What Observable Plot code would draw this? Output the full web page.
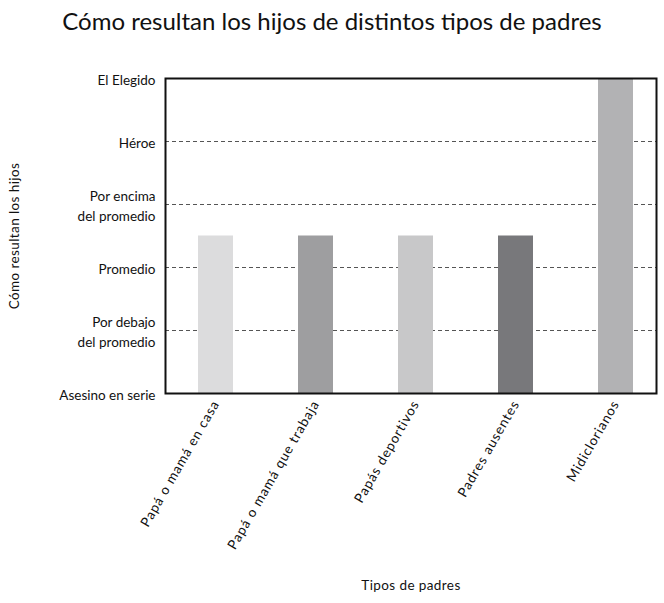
<!DOCTYPE html>
<html>
<head>
<meta charset="utf-8">
<script src="https://cdn.jsdelivr.net/npm/d3@7"></script>
<script src="https://cdn.jsdelivr.net/npm/@observablehq/plot@0.6"></script>
<style>
  body { margin: 0; background: #fff; font-family: Lato, "Noto Sans", sans-serif; }
  #title { height: 44px; text-align: center; font-size: 24px; line-height: 42px; color: #111; }
  g[aria-label="x-axis tick label"] text { letter-spacing: 0.9px; }
  g[aria-label="x-axis label"] text, g[aria-label="y-axis label"] text { letter-spacing: 0.4px; }
</style>
</head>
<body>
<div id="title">Cómo resultan los hijos de distintos tipos de padres</div>
<div id="chart"></div>
<script>
const categories = ["Papá o mamá en casa", "Papá o mamá que trabaja", "Papás deportivos", "Padres ausentes", "Midiclorianos"];
const values = [2.5, 2.5, 2.5, 2.5, 5];
const barColors = ["#dcdcdd", "#9e9ea0", "#c8c8c9", "#78787b", "#b2b2b4"];
const levels = [0, 1, 2, 3, 4, 5];
const levelLabels = ["Asesino en serie", "Por debajo\ndel promedio", "Promedio", "Por encima\ndel promedio", "Héroe", "El Elegido"];
const gridLevels = [1, 2, 3, 4];

const data = categories.map((c, i) => ({cat: c, value: values[i], color: barColors[i]}));

const chart = Plot.plot({
  width: 664,
  height: 559,
  marginLeft: 165,
  marginRight: 8,
  marginTop: 34,
  marginBottom: 210,
  style: {fontFamily: "Lato, 'Noto Sans', sans-serif", fontSize: "13.5px", color: "#111", background: "#fff"},
  x: {domain: categories, paddingInner: 0.651, paddingOuter: 0.2745, align: 0.58},
  y: {domain: [0, 5]},
  color: {type: "identity"},
  marks: [
    Plot.ruleY(gridLevels, {stroke: "#555", strokeDasharray: "4,3", strokeWidth: 1}),
    Plot.barY(data, {x: "cat", y: "value", fill: "color"}),
    Plot.frame({stroke: "#111", strokeWidth: 2}),
    Plot.axisY(levels, {
      tickSize: 0, tickPadding: 10,
      tickFormat: (d) => levelLabels[d],
      fontSize: 13.5,
      lineHeight: 1.45,
      label: "Cómo resultan los hijos",
      labelAnchor: "center",
      labelArrow: "none",
      labelOffset: 156
    }),
    Plot.axisX({
      tickSize: 0, tickPadding: 8, tickRotate: -60,
      fontSize: 13.5,
      label: "Tipos de padres",
      labelAnchor: "center",
      labelArrow: "none",
      labelOffset: 196
    })
  ]
});
document.getElementById("chart").appendChild(chart);
</script>
</body>
</html>
